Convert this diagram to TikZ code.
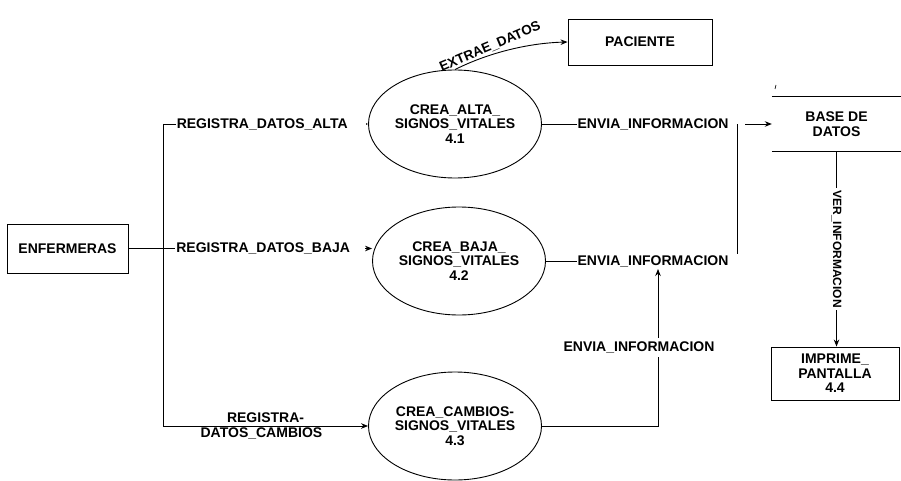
\documentclass[tikz,border=0pt]{standalone}
\usepackage{fontspec}
\setmainfont{Liberation Sans}
\usetikzlibrary{shapes.geometric,arrows.meta}
\begin{document}
\begin{tikzpicture}[x=1pt,y=-1pt,
  txt/.style={font=\fontsize{14}{14.5}\selectfont\bfseries, inner sep=1pt},
  lbl/.style={txt, align=left},
  lblsmall/.style={font=\fontsize{12}{12}\selectfont\bfseries, inner sep=2pt},
  wire/.style={line width=0.9pt},
  flow/.style={wire, -{Stealth[length=7pt,width=5.5pt]}},
  box/.style={draw, line width=0.9pt, txt, align=center},
  proc/.style={ellipse, draw, line width=0.9pt, minimum width=136pt, minimum height=108pt, inner sep=0pt, txt, align=center}
]
\useasboundingbox (0,0) rectangle (901,481);

% nodes
\node[box, minimum width=121pt, minimum height=49pt] (enf) at (67.5,248.5) {ENFERMERAS};
\node[proc] (p1) at (455,124) {CREA\_ALTA\_\\SIGNOS\_VITALES\\4.1};
\node[proc] (p2) at (459,261) {CREA\_BAJA\_\\SIGNOS\_VITALES\\4.2};
\node[proc] (p3) at (455,426) {CREA\_CAMBIOS-\\SIGNOS\_VITALES\\4.3};
\node[box, minimum width=144pt, minimum height=46pt] (pac) at (640,42) {PACIENTE};
\node[txt, align=center, minimum width=129pt, minimum height=55pt] (bd) at (836.5,124) {BASE DE\\DATOS};
\draw[wire] (bd.north west) -- (bd.north east);
\draw[wire] (bd.south west) -- (bd.south east);
\draw[line width=0.7pt] (776,85) -- (775,89);
\node[box, minimum width=128pt, minimum height=53pt] (imp) at (835,373.5) {IMPRIME\_\\PANTALLA\\4.4};

% junction points
\coordinate (ja) at (163,124);
\coordinate (jb) at (163,248.5);
\coordinate (jc) at (163,426);
\coordinate (jt) at (737,124);
\coordinate (jm) at (737,261);
\coordinate (jk) at (658,426);
\coordinate (ae) at (658,269);

% connectors
\draw[wire] (enf.east) -- (jb);
\draw[wire] (ja) -- (jc);
\draw[flow] (ja) -- node[lbl, fill=white, pos=0.06, anchor=west, text width=188pt] {REGISTRA\_DATOS\_ALTA} (p1);
\draw[flow] (jb) -- node[lbl, fill=white, pos=0.057, anchor=west, text width=188pt] {REGISTRA\_DATOS\_BAJA} (jb -| p2.west);
\draw[flow] (jc) -- node[txt, pos=0.5, above=2pt] {REGISTRA-} node[txt, pos=0.48, below=0pt] {DATOS\_CAMBIOS} (p3);

\draw[flow] (p1) -- node[lbl, fill=white, pos=0.149, anchor=west, text width=166pt] {ENVIA\_INFORMACION} (bd.west);
\draw[wire] (p2) -- node[lbl, fill=white, pos=0.158, anchor=west, text width=166pt] {ENVIA\_INFORMACION} (jm) -- (jt);
\draw[flow] (p3) -- (jk) -- node[txt, fill=white, pos=0.5, xshift=-19pt, inner ysep=4pt] {ENVIA\_INFORMACION} (ae);

\draw[flow] (bd.south) -- node[lblsmall, fill=white, rotate=-90] {VER\_INFORMACION} (bd.south |- imp.north);

\draw[flow] (p1.north) .. controls (490,52) and (530,43) .. node[txt, font=\fontsize{13.5}{14}\selectfont\bfseries, pos=0.35, anchor=south, rotate=23, inner sep=2pt] {EXTRAE\_DATOS} (pac.west);
\end{tikzpicture}
\end{document}
